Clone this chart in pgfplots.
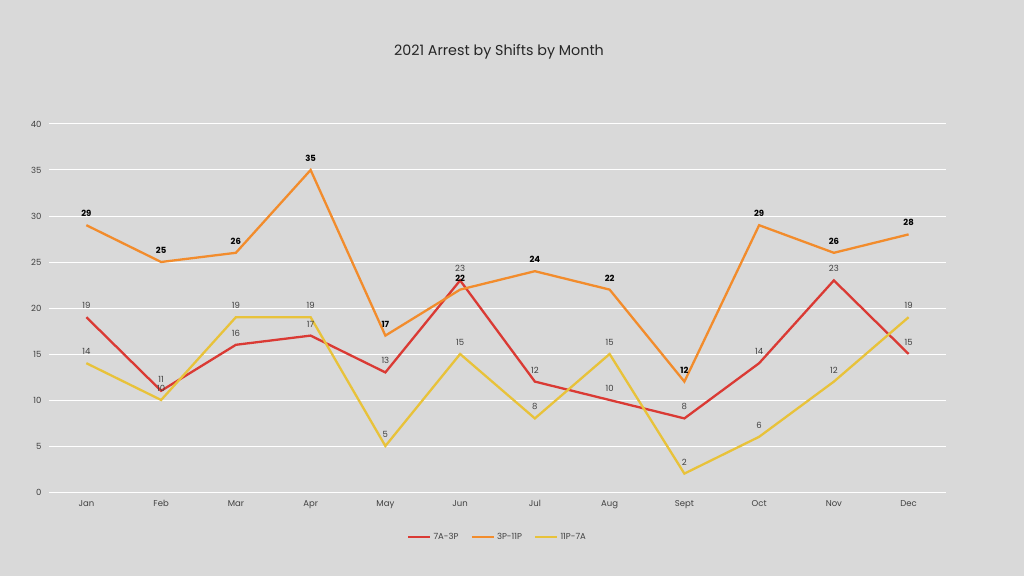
\documentclass[border=0pt]{standalone}
\usepackage{pgfplots}
\pgfplotsset{compat=1.18}
\usepackage{fontspec}
\setmainfont{Poppins}
\definecolor{bg}{HTML}{D9D9D9}
\definecolor{cred}{HTML}{DA3A34}
\definecolor{corange}{HTML}{F28C2C}
\definecolor{cyellow}{HTML}{E8C23A}
\definecolor{txt}{HTML}{404040}
\begin{document}
\begin{tikzpicture}[x=1pt,y=1pt]
\fill[bg] (0,0) rectangle (1024,576);
\node[font=\fontsize{14.3}{16}\selectfont, text=black!85] at (499,524) {2021 Arrest by Shifts by Month};
\begin{axis}[
  at={(49pt,84pt)}, anchor=south west,
  width=897pt, height=368pt, scale only axis,
  xmin=-0.5, xmax=11.5, ymin=0, ymax=40,
  xtick={0,...,11},
  xticklabels={Jan,Feb,Mar,Apr,May,Jun,Jul,Aug,Sept,Oct,Nov,Dec},
  ytick={0,5,...,40},
  axis line style={draw=none},
  ymajorgrids, grid style={white, line width=1pt},
  tick style={draw=none},
  tick label style={font=\fontsize{8.5}{10}\selectfont, text=txt},
  /pgf/number format/assume math mode=true,
  xticklabel style={yshift=-5pt},
  yticklabel style={xshift=-4pt},
  legend style={at={(0.5,-0.1)}, anchor=north, draw=none, fill=none,
    legend columns=-1, font=\fontsize{8.5}{10}\selectfont, text=txt,
    /tikz/every even column/.append style={column sep=10pt}},
  legend image code/.code={\draw[#1, line width=2.5pt] (0pt,0pt) -- (22pt,0pt);},
  nodes near coords,
  every node near coord/.append style={font=\fontsize{8.5}{10}\selectfont, text=txt, yshift=4pt},
  clip=false,
]
\addplot[cred, line width=2.3pt] coordinates {
(0,19) (1,11) (2,16) (3,17) (4,13) (5,23) (6,12) (7,10) (8,8) (9,14) (10,23) (11,15)};
\addlegendentry{7A-3P}
\addplot[corange, line width=2.3pt, every node near coord/.append style={font=\fontsize{8.5}{10}\selectfont\bfseries, text=black}] coordinates {
(0,29) (1,25) (2,26) (3,35) (4,17) (5,22) (6,24) (7,22) (8,12) (9,29) (10,26) (11,28)};
\addlegendentry{3P-11P}
\addplot[cyellow, line width=2.3pt] coordinates {
(0,14) (1,10) (2,19) (3,19) (4,5) (5,15) (6,8) (7,15) (8,2) (9,6) (10,12) (11,19)};
\addlegendentry{11P-7A}
\end{axis}
\end{tikzpicture}
\end{document}
